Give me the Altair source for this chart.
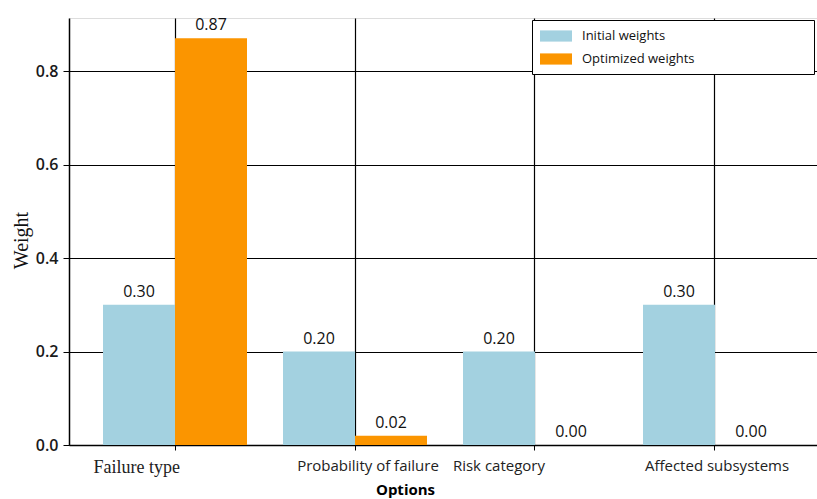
import altair as alt
import pandas as pd

categories = ["Failure type", "Probability of failure", "Risk category", "Affected subsystems"]
series = ["Initial weights", "Optimized weights"]
initial_weights = [0.30, 0.20, 0.20, 0.30]
optimized_weights = [0.87, 0.02, 0.00, 0.00]
y_ticks = [0.0, 0.2, 0.4, 0.6, 0.8]
colors = ["#A3D1E0", "#FB9500"]

rows = []
for cat, a, b in zip(categories, initial_weights, optimized_weights):
    rows.append({"category": cat, "series": series[0], "weight": a})
    rows.append({"category": cat, "series": series[1], "weight": b})
df = pd.DataFrame(rows)

sans = "Open Sans"
serif = "Liberation Serif"
is_first = "datum.value == 'Failure type'"

x_enc = alt.X(
    "category:N",
    sort=categories,
    scale=alt.Scale(paddingInner=0, paddingOuter=0.0889, range=[0, 752]),
    axis=alt.Axis(
        title="Options",
        titleFont=sans,
        titleFontSize=15,
        titleFontWeight="bold",
        titleColor="#000",
        titleX=336,
        titleY=37,
        labelAngle=0,
        labelFont={"condition": {"test": is_first, "value": serif}, "value": sans},
        labelFontSize={"condition": {"test": is_first, "value": 18}, "value": 15},
        labelAlign={
            "condition": {"test": is_first + " || datum.value == 'Risk category'", "value": "right"},
            "value": "center",
        },
        labelOffset={
            "condition": [
                {"test": "datum.value == 'Probability of failure'", "value": 13},
                {"test": "datum.value == 'Risk category'", "value": 10},
                {"test": is_first, "value": 5},
            ],
            "value": 2,
        },
        labelColor="#222",
        labelPadding=8,
        bandPosition=0.5,
        grid=True,
        gridColor="#000",
        gridWidth=1.2,
        tickColor="#000",
        tickSize=5,
        domainColor="#000",
        domainWidth=1.5,
    ),
)

y_enc = alt.Y(
    "weight:Q",
    scale=alt.Scale(domain=[0, 0.9135], nice=False),
    axis=alt.Axis(
        title="Weight",
        titleFont=serif,
        titleFontSize=20,
        titleFontWeight="normal",
        titleColor="#111",
        titleX=-38,
        titleY=222,
        values=y_ticks,
        format=".1f",
        labelFont=sans,
        labelFontSize=16,
        labelFontWeight=600,
        labelColor="#1a1a1a",
        labelPadding=5,
        grid=True,
        gridColor="#000",
        gridWidth=1.2,
        tickColor="#000",
        tickSize=6,
        domainColor="#000",
        domainWidth=1.5,
    ),
)

xoff = alt.XOffset("series:N", sort=series, scale=alt.Scale(paddingInner=0, paddingOuter=0.25))

base = alt.Chart(df).encode(x=x_enc, xOffset=xoff, y=y_enc)

# trailing blank room inside the legend box (kept from being trimmed by a zero-width end mark)
legend_room = "\u00a0" * 33 + "\u200b"

bars = base.mark_bar().encode(
    color=alt.Color(
        "series:N",
        sort=series,
        scale=alt.Scale(domain=series, range=colors),
        legend=alt.Legend(
            title=None,
            orient="none",
            legendX=463,
            legendY=2,
            strokeColor="#000",
            fillColor="#fff",
            padding=8,
            cornerRadius=0,
            symbolType="M-2,-0.7L2,-0.7L2,0.7L-2,0.7Z",
            symbolSize=256,
            symbolOffset=8,
            symbolStrokeWidth=0,
            labelFont=sans,
            labelFontSize=13,
            labelColor="#111",
            labelOffset=18,
            labelLimit=400,
            rowPadding=8,
            labelExpr="datum.label + '" + legend_room + "'",
        ),
    )
)

value_labels = base.mark_text(
    baseline="alphabetic", dy=-8, font=sans, fontSize=16, fontWeight=500, color="#111"
).encode(text=alt.Text("weight:Q", format=".2f"))

chart = (
    alt.layer(bars, value_labels)
    .properties(
        width=748,
        height=427,
        autosize=alt.AutoSizeParams(type="none"),
        padding={"left": 69, "top": 18, "right": 0, "bottom": 54},
    )
    .configure_view(stroke=None)
    .configure(background="#fff")
)

chart.save("out.html", embed_options={"renderer": "svg", "actions": False})
